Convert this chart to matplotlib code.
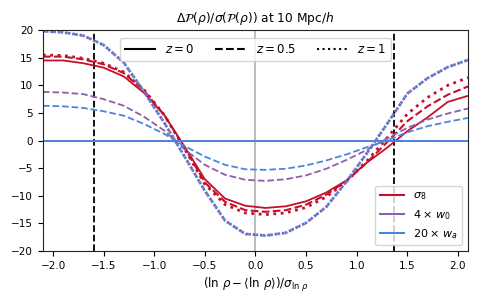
import numpy as np
import matplotlib
matplotlib.use('Agg')
import matplotlib.pyplot as plt
from matplotlib.lines import Line2D

plt.rcParams['font.size'] = 7.5

# density bins (ln rho - <ln rho>) / sigma
x = [-2.1, -1.9, -1.7, -1.5, -1.3, -1.1, -0.9, -0.7, -0.5, -0.3, -0.1,
     0.1, 0.3, 0.5, 0.7, 0.9, 1.1, 1.3, 1.5, 1.7, 1.9, 2.1]

# sigma_8 response at z = 0, 0.5, 1
s8_z0 = [14.5, 14.5, 14.0, 13.2, 11.6, 8.6, 4.6, -1.1, -7.0, -10.5, -11.8,
         -12.2, -11.9, -11.0, -9.4, -7.2, -4.0, -1.3, 1.7, 4.2, 7.0, 8.1]
s8_z05 = [15.2, 15.2, 14.7, 13.8, 12.2, 9.0, 4.6, -1.3, -7.6, -11.1, -12.6,
          -12.9, -12.6, -11.6, -9.8, -7.3, -4.0, -0.3, 3.5, 6.2, 8.3, 9.8]
s8_z1 = [15.5, 15.4, 14.9, 14.0, 12.4, 9.2, 4.6, -1.5, -7.9, -11.6, -13.1,
         -13.4, -13.1, -12.1, -10.2, -7.4, -3.7, 0.5, 4.8, 7.8, 10.0, 11.4]

# 4 x w0 response
w0_z0 = [0.0] * 22
w0_z05 = [8.8, 8.7, 8.4, 7.5, 6.3, 4.3, 1.8, -1.6, -4.4, -6.2, -7.1,
          -7.3, -7.0, -6.3, -5.1, -3.5, -1.7, 0.4, 2.3, 3.8, 4.9, 5.8]
w0_z1 = [19.8, 19.6, 19.0, 17.3, 14.1, 8.8, 3.2, -2.9, -9.1, -14.5, -16.9,
         -17.2, -16.7, -14.9, -12.0, -7.4, -2.3, 3.0, 8.5, 11.3, 13.3, 14.6]

# 20 x wa response
wa_z0 = [0.0] * 22
wa_z05 = [6.3, 6.2, 5.9, 5.3, 4.5, 3.0, 1.2, -1.0, -2.9, -4.4, -5.2,
          -5.3, -5.1, -4.5, -3.6, -2.5, -1.2, 0.0, 1.5, 2.6, 3.4, 4.1]
wa_z1 = [19.8, 19.6, 19.0, 17.3, 14.1, 8.8, 3.2, -2.9, -9.1, -14.5, -16.9,
         -17.2, -16.7, -14.9, -12.0, -7.4, -2.3, 3.0, 8.5, 11.3, 13.3, 14.6]

vlines = [-1.6, 1.37]

red = '#c5102a'
purple = '#8e5fab'
blue = '#4a86dc'

fig = plt.figure(figsize=(4.82, 3.01), dpi=100)
ax = fig.add_axes([0.089, 0.166, 0.882, 0.734])

ax.axvline(0, color='#b0b0b0', lw=1.2, zorder=1)
for v in vlines:
    ax.axvline(v, color='k', ls='--', lw=1.3, zorder=1)

ax.plot(x, s8_z0, color=red, lw=1.3, ls='-')
ax.plot(x, s8_z05, color=red, lw=1.5, ls='--')
ax.plot(x, s8_z1, color=red, lw=2.0, ls=':')

ax.plot(x, w0_z0, color=purple, lw=1.3, ls='-')
ax.plot(x, w0_z05, color=purple, lw=1.3, ls='--')
ax.plot(x, w0_z1, color=purple, lw=2.0, ls=':')

ax.plot(x, wa_z0, color=blue, lw=1.3, ls='-')
ax.plot(x, wa_z05, color=blue, lw=1.3, ls='--')
ax.plot(x, wa_z1, color=blue, lw=2.0, ls=(1.6, (1, 1.65)))

ax.set_xlim(-2.1, 2.1)
ax.set_ylim(-20, 20)
ax.set_xticks([-2.0, -1.5, -1.0, -0.5, 0.0, 0.5, 1.0, 1.5, 2.0])
ax.set_yticks([-20, -15, -10, -5, 0, 5, 10, 15, 20])
ax.set_xlabel(r'$(\ln\,\rho - \langle \ln\,\rho\rangle)/\sigma_{\ln\,\rho}$', fontsize=8.5)
ax.set_title(r'$\Delta\mathcal{P}(\rho)/\sigma(\mathcal{P}(\rho))$ at 10 Mpc/$h$', fontsize=8.8)
for s in ax.spines.values():
    s.set_color('#222222')

style_handles = [Line2D([], [], color='k', lw=1.5, ls='-'),
                 Line2D([], [], color='k', lw=1.5, ls='--'),
                 Line2D([], [], color='k', lw=1.5, ls=':')]
leg1 = ax.legend(style_handles, [r'$z=0$', r'$z=0.5$', r'$z=1$'],
                 loc='upper center', ncol=3, fontsize=8.5, columnspacing=1.8,
                 handlelength=2.6, bbox_to_anchor=(0.5, 0.99))
ax.add_artist(leg1)

color_handles = [Line2D([], [], color=red, lw=1.5),
                 Line2D([], [], color=purple, lw=1.5),
                 Line2D([], [], color=blue, lw=1.5)]
ax.legend(color_handles, [r'$\sigma_8$', r'$4\times\, w_0$', r'$20\times\, w_a$'],
          loc='lower right', fontsize=8, handlelength=2.2)

fig.savefig('out.png', dpi=100)
